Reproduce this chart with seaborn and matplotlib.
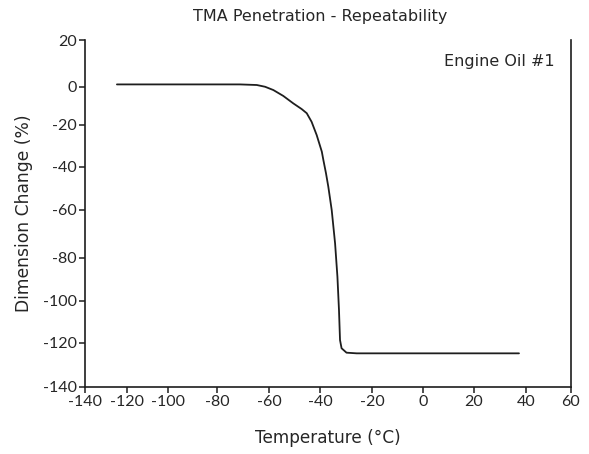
import numpy as np
import pandas as pd
import matplotlib
matplotlib.use("Agg")
import matplotlib.pyplot as plt
import seaborn as sns

# ---- data ----
temperature = [-124.8, -71.2, -64.7, -61.5, -58.3, -54.4, -50.5, -47.2, -45.2,
               -43.3, -41.3, -39.3, -38.7, -37.7, -36.8, -35.5, -34.2, -33.3,
               -32.7, -32.3, -31.7, -29.8, -25.9, 37.3]
dimension_change = [1.1, 1.1, 0.85, 0.1, -1.6, -4.7, -8.6, -11.6, -13.8,
                    -18.3, -24.8, -32.7, -36.7, -42.9, -49.2, -60.0, -73.9, -88.7,
                    -104.3, -118.6, -122.4, -124.4, -124.7, -124.7]

x_ticks = [-140, -120, -100, -80, -60, -40, -20, 0, 20, 40, 60]
y_ticks = [-140, -120, -100, -80, -60, -40, -20, 0, 20]

title = "TMA Penetration - Repeatability"
x_label = "Temperature (°C)"
y_label = "Dimension Change (%)"
annotation = "Engine Oil #1"

# ---- the reference uses unevenly spaced tick marks; reproduce with a piecewise scale ----
x_tick_pos = np.array([85, 127, 168, 217, 269, 320, 372, 423, 474, 526, 571], float)
y_tick_pos = -np.array([387, 343, 301, 258, 210, 167, 125, 87, 40], float)

def fx(v):
    return np.interp(v, x_ticks, x_tick_pos)

def ifx(p):
    return np.interp(p, x_tick_pos, x_ticks)

def fy(v):
    return np.interp(v, y_ticks, y_tick_pos)

def ify(p):
    return np.interp(p, y_tick_pos, y_ticks)

sns.set_style("ticks")
plt.rcParams['font.family'] = ['Lato', 'DejaVu Sans']
label_font = ['DejaVu Sans']
ink = "#1e1e1e"
text_ink = "#262626"

df = pd.DataFrame({"Temperature": temperature, "Change": dimension_change})

fig = plt.figure(figsize=(5.89, 4.54), dpi=100)
ax = fig.add_axes([85/589, 1 - 387/454, (571-85)/589, (387-40)/454])

sns.lineplot(data=df, x="Temperature", y="Change", ax=ax, color=ink,
             linewidth=1.3, estimator=None, sort=False)

ax.set_xscale("function", functions=(fx, ifx))
ax.set_yscale("function", functions=(fy, ify))
ax.set_xlim(-140, 60)
ax.set_ylim(-140, 20)
ax.set_xticks(x_ticks)
ax.set_yticks(y_ticks)
ax.set_xticklabels([str(t) for t in x_ticks])
ax.set_yticklabels([str(t) for t in y_ticks])
ax.minorticks_off()

for s in ["left", "bottom", "right"]:
    ax.spines[s].set_linewidth(1.2)
    ax.spines[s].set_color(ink)
ax.spines["top"].set_visible(False)
ax.tick_params(axis="both", direction="out", length=4, width=1.1,
               color=ink, labelsize=11.5, labelcolor=text_ink, pad=2)

ax.set_xlabel(x_label, fontsize=12.2, color=text_ink, labelpad=14, family=label_font)
ax.set_ylabel(y_label, fontsize=12.3, color=text_ink, labelpad=7, family=label_font)
fig.text(320.5/589, 1 - 16/454, title, ha="center", va="center",
         fontsize=11.5, color=text_ink, family=label_font)
ax.text(0.966, 0.937, annotation, transform=ax.transAxes, ha="right",
        va="center", fontsize=11.5, color=text_ink, family=label_font)

fig.savefig("out.png", dpi=100)
